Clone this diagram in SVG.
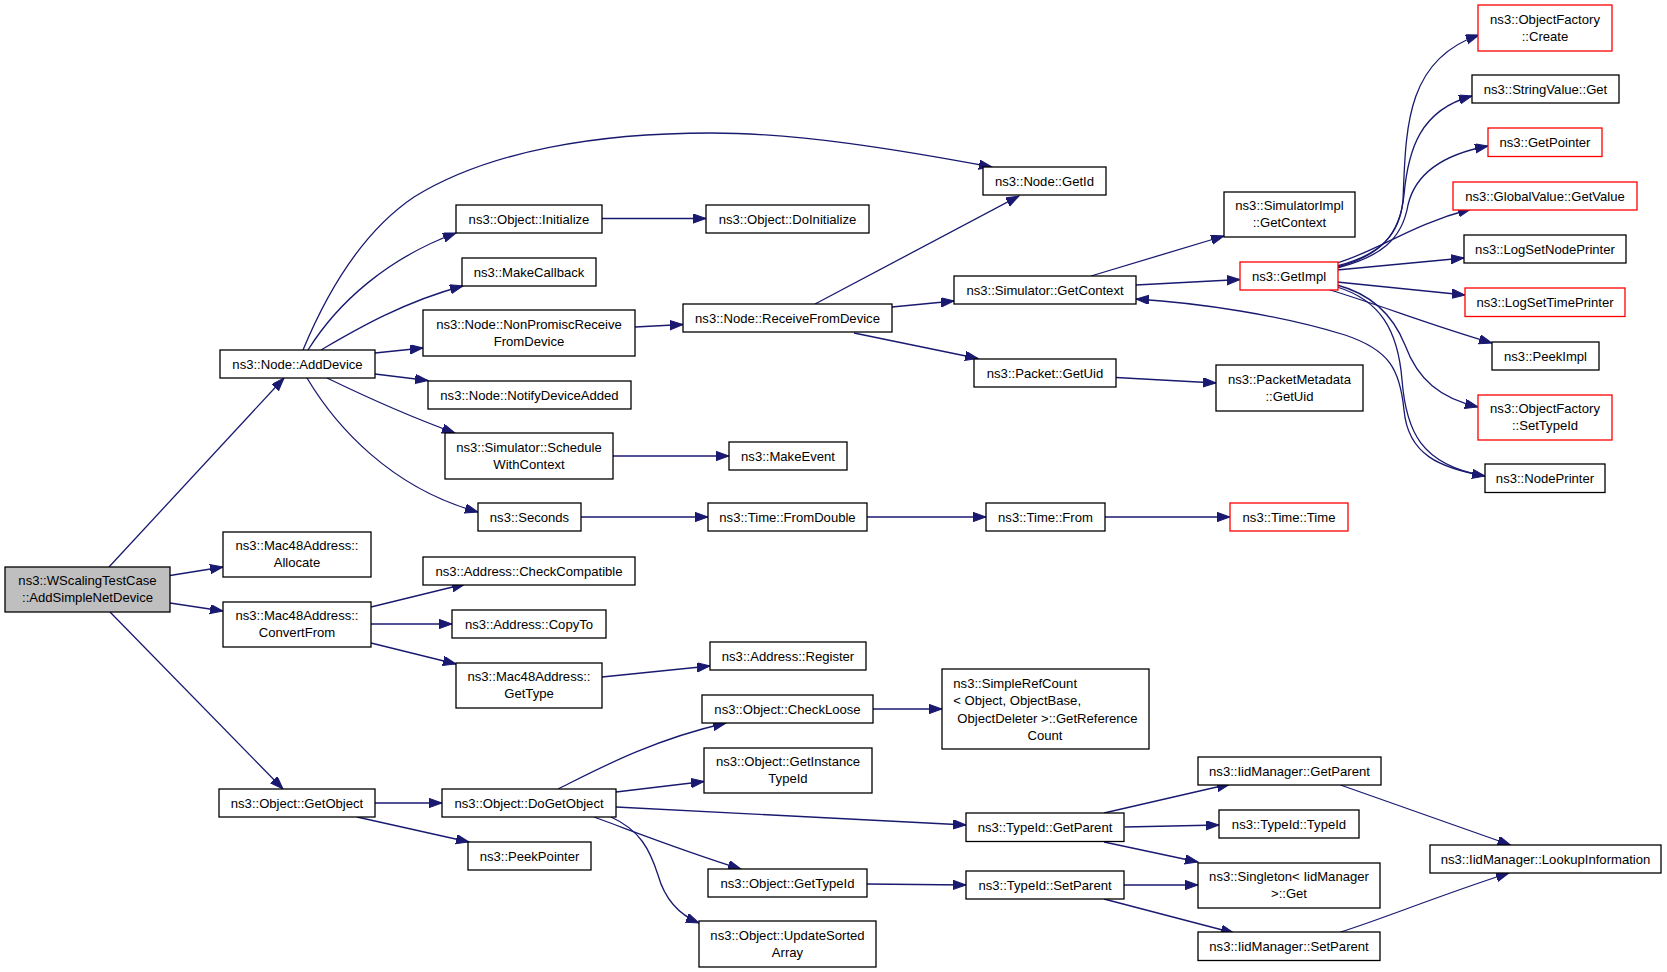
<svg xmlns="http://www.w3.org/2000/svg" width="1667" height="972" viewBox="0 0 1667 972">
<style>
.node rect{fill:#ffffff;stroke:#000000;stroke-width:1.3}
.red rect{stroke:#ff0000}
.root rect{fill:#bfbfbf}
text{font-family:"Liberation Sans",Arial,Helvetica,sans-serif;font-size:13.1px;fill:#000000;text-anchor:middle}
text.l{text-anchor:start}
.edges path{fill:none;stroke:#191970;stroke-width:1.3;marker-end:url(#arr)}
</style>
<defs>
<marker id="arr" markerUnits="userSpaceOnUse" markerWidth="15" markerHeight="11" refX="13" refY="4.65" orient="auto">
<path d="M0,0 L13,4.65 L0,9.3 Z" fill="#191970" stroke="#191970" stroke-width="1"/>
</marker>
</defs>
<rect width="1667" height="972" fill="#ffffff"/>
<g class="edges" id="connectors">
<path d="M109,567 L284,378"/>
<path d="M170,575.5 L223,567"/>
<path d="M170,603 L223,611"/>
<path d="M110,612 L283,789"/>
<path d="M303,350 C330,285 365,230 414,197 C490,150 600,133 711,133 C800,133 900,150 992,167"/>
<path d="M308,350 C338,302 388,258 456,233"/>
<path d="M321,350 C352,332 402,302 463,286"/>
<path d="M375,353 L423,348"/>
<path d="M375,374 L428,380.5"/>
<path d="M327,378 C360,394 408,416 455,433"/>
<path d="M307,378 C335,425 390,488 478,512"/>
<path d="M371,607 L465,584"/>
<path d="M371,624 L452,624"/>
<path d="M371,643 L456,664"/>
<path d="M375,803 L442,803"/>
<path d="M357,817 L469,842"/>
<path d="M602,218.5 L706,218.5"/>
<path d="M635,327 L683,324.5"/>
<path d="M613,456 L729,456"/>
<path d="M581,517 L708,517"/>
<path d="M602,677 L710,666"/>
<path d="M558,789 C600,768 652,740 726,723"/>
<path d="M616,792 L704,781.5"/>
<path d="M616,807 L966,825"/>
<path d="M594,817 C630,830 680,850 741,869"/>
<path d="M611,817 C640,830 650,850 658,875 C665,900 680,915 699,923"/>
<path d="M815,304 L1019,196"/>
<path d="M892,307 L954,301"/>
<path d="M854,333 L978,358.5"/>
<path d="M867,517 L986,517"/>
<path d="M873,709 L942,709"/>
<path d="M867,884 L966,885"/>
<path d="M1091,276 L1224,236"/>
<path d="M1136,285 L1240,279.5"/>
<path d="M1116,377.5 L1216,383"/>
<path d="M1105,517 L1230,517"/>
<path d="M1104,813 L1230,784"/>
<path d="M1124.5,827 L1219,825"/>
<path d="M1104,842 L1198,862"/>
<path d="M1124,885 L1198,885"/>
<path d="M1104,899 L1234,933"/>
<path d="M1337,266 C1380,255 1400,235 1403,200 C1406,130 1405,60 1479,35"/>
<path d="M1337,267 C1380,256 1400,235 1404,195 C1408,150 1420,110 1472,96"/>
<path d="M1337,268 C1380,257 1402,240 1408,205 C1415,175 1440,155 1488,146"/>
<path d="M1337,263 C1380,250 1410,225 1471,209"/>
<path d="M1337,270 L1464,258"/>
<path d="M1337,282 L1465,295"/>
<path d="M1330,290 C1380,305 1430,325 1492,343"/>
<path d="M1337,285 C1375,295 1395,320 1405,345 C1418,380 1440,398 1478,407"/>
<path d="M1337,287 C1380,300 1398,330 1402,380 C1406,430 1420,465 1485,476"/>
<path d="M1485,476 C1440,468 1408,455 1404,410 C1400,370 1390,350 1345,335 C1280,315 1200,303 1136,299"/>
<path d="M1340.5,785 L1510.5,845"/>
<path d="M1340.5,932 C1380,920 1440,895 1509,873"/>
</g>
<g id="n_root" class="node root"><rect x="5" y="567" width="165" height="45"/><text x="87.5" y="585">ns3::WScalingTestCase</text><text x="87.5" y="602">::AddSimpleNetDevice</text></g>
<g id="n_adddevice" class="node"><rect x="220" y="350" width="155" height="28"/><text x="297.5" y="368.5">ns3::Node::AddDevice</text></g>
<g id="n_allocate" class="node"><rect x="223" y="532" width="148" height="45"/><text x="297" y="550">ns3::Mac48Address::</text><text x="297" y="567">Allocate</text></g>
<g id="n_convertfrom" class="node"><rect x="223" y="602" width="148" height="45"/><text x="297" y="620">ns3::Mac48Address::</text><text x="297" y="637">ConvertFrom</text></g>
<g id="n_getobject" class="node"><rect x="219" y="789" width="156" height="28"/><text x="297" y="807.5">ns3::Object::GetObject</text></g>
<g id="n_initialize" class="node"><rect x="456" y="205" width="146" height="28"/><text x="529" y="223.5">ns3::Object::Initialize</text></g>
<g id="n_makecallback" class="node"><rect x="462" y="258" width="134" height="28"/><text x="529" y="276.5">ns3::MakeCallback</text></g>
<g id="n_nonpromisc" class="node"><rect x="423" y="310" width="212" height="46"/><text x="529" y="328.5">ns3::Node::NonPromiscReceive</text><text x="529" y="345.5">FromDevice</text></g>
<g id="n_notify" class="node"><rect x="428" y="381" width="203" height="28"/><text x="529.5" y="399.5">ns3::Node::NotifyDeviceAdded</text></g>
<g id="n_schedule" class="node"><rect x="445" y="433" width="168" height="46"/><text x="529" y="451.5">ns3::Simulator::Schedule</text><text x="529" y="468.5">WithContext</text></g>
<g id="n_seconds" class="node"><rect x="478" y="503" width="103" height="28"/><text x="529.5" y="521.5">ns3::Seconds</text></g>
<g id="n_checkcompatible" class="node"><rect x="423" y="557" width="212" height="28"/><text x="529" y="575.5">ns3::Address::CheckCompatible</text></g>
<g id="n_copyto" class="node"><rect x="452" y="610" width="154" height="28"/><text x="529" y="628.5">ns3::Address::CopyTo</text></g>
<g id="n_gettype" class="node"><rect x="456" y="663" width="146" height="45"/><text x="529" y="681">ns3::Mac48Address::</text><text x="529" y="698">GetType</text></g>
<g id="n_dogetobject" class="node"><rect x="442" y="789" width="174" height="28"/><text x="529" y="807.5">ns3::Object::DoGetObject</text></g>
<g id="n_peekpointer" class="node"><rect x="468" y="842" width="123" height="28"/><text x="529.5" y="860.5">ns3::PeekPointer</text></g>
<g id="n_getid" class="node"><rect x="983" y="167" width="123" height="28"/><text x="1044.5" y="185.5">ns3::Node::GetId</text></g>
<g id="n_doinitialize" class="node"><rect x="706" y="205" width="163" height="28"/><text x="787.5" y="223.5">ns3::Object::DoInitialize</text></g>
<g id="n_receivefromdevice" class="node"><rect x="683" y="304" width="209" height="28"/><text x="787.5" y="322.5">ns3::Node::ReceiveFromDevice</text></g>
<g id="n_makeevent" class="node"><rect x="729" y="442" width="118" height="28"/><text x="788" y="460.5">ns3::MakeEvent</text></g>
<g id="n_fromdouble" class="node"><rect x="708" y="503" width="159" height="28"/><text x="787.5" y="521.5">ns3::Time::FromDouble</text></g>
<g id="n_register" class="node"><rect x="710" y="642" width="156" height="28"/><text x="788" y="660.5">ns3::Address::Register</text></g>
<g id="n_checkloose" class="node"><rect x="702" y="695" width="171" height="28"/><text x="787.5" y="713.5">ns3::Object::CheckLoose</text></g>
<g id="n_getinstancetypeid" class="node"><rect x="704" y="748" width="168" height="45"/><text x="788" y="766">ns3::Object::GetInstance</text><text x="788" y="783">TypeId</text></g>
<g id="n_objgettypeid" class="node"><rect x="708" y="869" width="159" height="28"/><text x="787.5" y="887.5">ns3::Object::GetTypeId</text></g>
<g id="n_updatesorted" class="node"><rect x="699" y="921" width="177" height="46"/><text x="787.5" y="939.5">ns3::Object::UpdateSorted</text><text x="787.5" y="956.5">Array</text></g>
<g id="n_simgetcontext" class="node"><rect x="954" y="276" width="182" height="28"/><text x="1045" y="294.5">ns3::Simulator::GetContext</text></g>
<g id="n_packetgetuid" class="node"><rect x="974" y="359" width="142" height="28"/><text x="1045" y="377.5">ns3::Packet::GetUid</text></g>
<g id="n_timefrom" class="node"><rect x="986" y="503" width="119" height="28"/><text x="1045.5" y="521.5">ns3::Time::From</text></g>
<g id="n_simplerefcount" class="node"><rect x="942" y="669" width="207" height="80"/><text class="l" x="953.3" y="687.5">ns3::SimpleRefCount</text><text class="l" x="953.3" y="705">&lt; Object, ObjectBase,</text><text class="l" x="957.3" y="722.5">ObjectDeleter &gt;::GetReference</text><text x="1045" y="740">Count</text></g>
<g id="n_typeidgetparent" class="node"><rect x="966" y="813" width="158" height="28.5"/><text x="1045" y="831.5">ns3::TypeId::GetParent</text></g>
<g id="n_typeidsetparent" class="node"><rect x="966" y="871" width="158" height="28"/><text x="1045" y="889.5">ns3::TypeId::SetParent</text></g>
<g id="n_simimplgetcontext" class="node"><rect x="1224" y="192" width="131" height="45"/><text x="1289.5" y="210">ns3::SimulatorImpl</text><text x="1289.5" y="227">::GetContext</text></g>
<g id="n_getimpl" class="node red"><rect x="1240" y="262" width="98" height="28"/><text x="1289" y="280.5">ns3::GetImpl</text></g>
<g id="n_packetmetadata" class="node"><rect x="1216" y="365" width="147" height="46"/><text x="1289.5" y="383.5">ns3::PacketMetadata</text><text x="1289.5" y="400.5">::GetUid</text></g>
<g id="n_timetime" class="node red"><rect x="1230" y="503" width="118" height="28"/><text x="1289" y="521.5">ns3::Time::Time</text></g>
<g id="n_iidgetparent" class="node"><rect x="1198" y="757" width="183" height="28"/><text x="1289.5" y="775.5">ns3::IidManager::GetParent</text></g>
<g id="n_typeidtypeid" class="node"><rect x="1219" y="810" width="140" height="28"/><text x="1289" y="828.5">ns3::TypeId::TypeId</text></g>
<g id="n_singleton" class="node"><rect x="1198" y="863" width="182" height="45"/><text x="1289" y="881">ns3::Singleton&lt; IidManager</text><text x="1289" y="898">&gt;::Get</text></g>
<g id="n_iidsetparent" class="node"><rect x="1198" y="932" width="182" height="28.5"/><text x="1289" y="950.5">ns3::IidManager::SetParent</text></g>
<g id="n_ofcreate" class="node red"><rect x="1478" y="5" width="134" height="46"/><text x="1545" y="23.5">ns3::ObjectFactory</text><text x="1545" y="40.5">::Create</text></g>
<g id="n_stringvalueget" class="node"><rect x="1472" y="75" width="147" height="28"/><text x="1545.5" y="93.5">ns3::StringValue::Get</text></g>
<g id="n_getpointer" class="node red"><rect x="1488" y="128" width="114" height="28.5"/><text x="1545" y="146.5">ns3::GetPointer</text></g>
<g id="n_globalvalue" class="node red"><rect x="1453" y="182" width="184" height="28"/><text x="1545" y="200.5">ns3::GlobalValue::GetValue</text></g>
<g id="n_logsetnodeprinter" class="node"><rect x="1464" y="235" width="162" height="28"/><text x="1545" y="253.5">ns3::LogSetNodePrinter</text></g>
<g id="n_logsettimeprinter" class="node red"><rect x="1465" y="288" width="160" height="28.5"/><text x="1545" y="306.5">ns3::LogSetTimePrinter</text></g>
<g id="n_peekimpl" class="node"><rect x="1492" y="342" width="107" height="28"/><text x="1545.5" y="360.5">ns3::PeekImpl</text></g>
<g id="n_ofsettypeid" class="node red"><rect x="1478" y="395" width="134" height="45"/><text x="1545" y="413">ns3::ObjectFactory</text><text x="1545" y="430">::SetTypeId</text></g>
<g id="n_nodeprinter" class="node"><rect x="1485" y="464" width="120" height="28.5"/><text x="1545" y="483">ns3::NodePrinter</text></g>
<g id="n_lookupinformation" class="node"><rect x="1430" y="845" width="231" height="28"/><text x="1545.5" y="863.5">ns3::IidManager::LookupInformation</text></g>
</svg>
